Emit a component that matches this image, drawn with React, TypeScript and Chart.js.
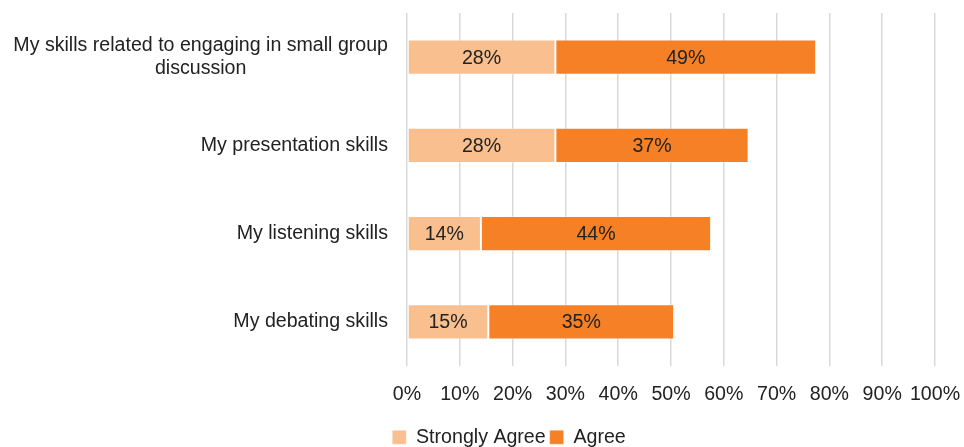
import React, { useEffect, useRef } from "react";
import { Chart, registerables } from "chart.js";

Chart.register(...registerables);

const categories: (string | string[])[] = [
  ["My skills related to engaging in small group", "discussion"],
  "My presentation skills",
  "My listening skills",
  "My debating skills",
];
const stronglyAgree = [28.1, 28.1, 14.0, 15.4];
const agree = [49.4, 36.6, 43.6, 35.2];
const seriesNames = ["Strongly Agree", "Agree"];
const xTicks = [0, 10, 20, 30, 40, 50, 60, 70, 80, 90, 100];

const FONT = "'Liberation Sans', Arial, Helvetica, sans-serif";
const FS = 19.6;
const TEXT = "#222222";

const labelsPlugin = {
  id: "customLabels",
  afterDatasetsDraw(chart: any) {
    const { ctx } = chart;
    const yScale = chart.scales.y;
    ctx.save();
    ctx.font = `${FS}px ${FONT}`;
    ctx.fillStyle = TEXT;
    ctx.textBaseline = "middle";
    const right = chart.chartArea.left - 19;
    categories.forEach((lab, i) => {
      const lines = Array.isArray(lab) ? lab : [lab];
      const yc = yScale.getPixelForValue(i);
      const lh = 23;
      const maxW = Math.max(...lines.map((l) => ctx.measureText(l).width));
      ctx.textAlign = "center";
      lines.forEach((l, j) => {
        const y = yc - ((lines.length - 1) * lh) / 2 + j * lh;
        ctx.fillText(l, right - maxW / 2, y);
      });
    });
    ctx.textAlign = "center";
    chart.data.datasets.forEach((ds: any, di: number) => {
      const meta = chart.getDatasetMeta(di);
      meta.data.forEach((bar: any, i: number) => {
        const v = ds.data[i];
        const cx = (bar.x + bar.base) / 2;
        ctx.fillText(Math.round(v) + "%", cx, bar.y + 1);
      });
    });
    ctx.restore();
  },
};

export default function App() {
  const ref = useRef<HTMLCanvasElement>(null);
  useEffect(() => {
    document.body.style.margin = "0";
    const chart = new Chart(ref.current!, {
      type: "bar",
      data: {
        labels: categories.map((c) => (Array.isArray(c) ? c.join(" ") : c)),
        datasets: [
          {
            label: seriesNames[0],
            data: stronglyAgree,
            backgroundColor: "#F9BF8F",
            borderColor: "rgba(255,255,255,0.35)",
            borderWidth: 1,
            borderSkipped: false,
          },
          {
            label: seriesNames[1],
            data: agree,
            backgroundColor: "#F58025",
            borderColor: "rgba(255,255,255,0.35)",
            borderWidth: 1,
            borderSkipped: false,
          },
        ],
      },
      options: {
        indexAxis: "y",
        responsive: false,
        animation: false,
        categoryPercentage: 1,
        barPercentage: 0.4,
        layout: { padding: { top: 13, left: 83, right: 29, bottom: -10 } },
        scales: {
          x: {
            stacked: true,
            min: 0,
            max: 100,
            afterBuildTicks: (scale: any) => {
              scale.ticks = xTicks.map((v) => ({ value: v }));
            },
            afterFit: (scale: any) => {
              scale.paddingLeft = 0;
              scale.paddingRight = 0;
            },
            ticks: {
              callback: (v: any) => v + "%",
              font: { family: FONT, size: FS },
              color: TEXT,
              padding: 17,
              maxRotation: 0,
              autoSkip: false,
            },
            grid: { color: "#d9d9d9", lineWidth: 1.5, drawTicks: false },
            border: { display: false },
          },
          y: {
            stacked: true,
            ticks: { display: false },
            grid: { display: false },
            border: { display: false },
            afterFit: (scale: any) => {
              scale.width = 324;
            },
          },
        },
        plugins: {
          legend: {
            position: "bottom",
            labels: {
              font: { family: FONT, size: FS },
              color: TEXT,
              boxWidth: 14,
              boxHeight: 14,
              padding: 4,
            },
          },
          tooltip: { enabled: false },
        },
      },
      plugins: [labelsPlugin],
    } as any);
    return () => chart.destroy();
  }, []);
  return (
    <div style={{ width: 964, height: 447 }}>
      <canvas ref={ref} width={964} height={447} />
    </div>
  );
}
